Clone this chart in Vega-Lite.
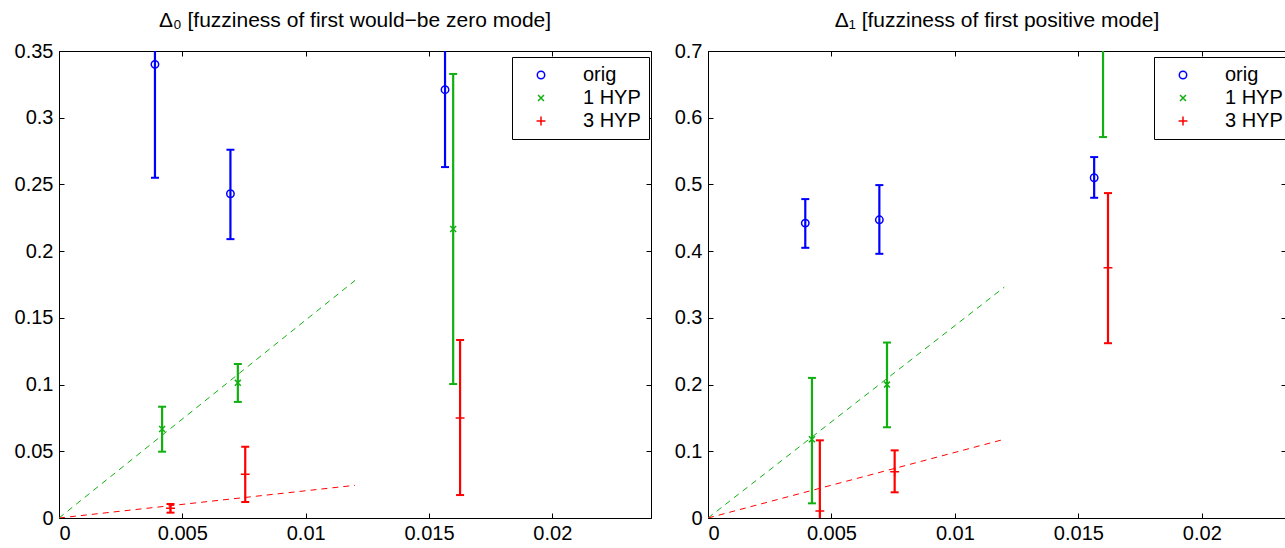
{
  "$schema": "https://vega.github.io/schema/vega-lite/v6.json",
  "background": "white",
  "padding": {"left": 13, "top": 9, "right": 0, "bottom": 0},
  "spacing": 21,
  "config": {
    "font": "Liberation Sans",
    "view": {"stroke": "black", "strokeWidth": 1},
    "title": {"font": "Liberation Sans", "fontSize": 21, "fontWeight": "normal", "color": "black", "anchor": "middle", "baseline": "alphabetic", "offset": 10},
    "axis": {"labelFont": "Liberation Sans", "labelFontSize": 20, "labelColor": "black", "tickColor": "black", "tickSize": -5, "tickWidth": 1, "domain": false, "grid": false, "title": null},
    "axisX": {"labelPadding": 10},
    "axisY": {"labelPadding": 11},
    "legend": {"orient": "none", "legendX": 453, "legendY": 6, "title": null, "padding": 8, "columnPadding": 0, "strokeColor": "black", "fillColor": "white", "labelFont": "Liberation Sans", "labelFontSize": 20, "labelColor": "black", "symbolSize": 55, "symbolStrokeWidth": 1.5, "symbolOffset": 11, "labelOffset": 32, "rowPadding": 3}
  },
  "datasets": {
    "pts": [
      {"panel": "A", "series": "orig", "x": 0.00389, "y": 0.340, "lo": 0.255, "hi": 0.425},
      {"panel": "A", "series": "orig", "x": 0.00695, "y": 0.243, "lo": 0.209, "hi": 0.276},
      {"panel": "A", "series": "orig", "x": 0.01565, "y": 0.321, "lo": 0.263, "hi": 0.379},
      {"panel": "A", "series": "1 HYP", "x": 0.00418, "y": 0.0667, "lo": 0.0497, "hi": 0.0834},
      {"panel": "A", "series": "1 HYP", "x": 0.00725, "y": 0.1013, "lo": 0.087, "hi": 0.1154},
      {"panel": "A", "series": "1 HYP", "x": 0.01598, "y": 0.2166, "lo": 0.1004, "hi": 0.3328},
      {"panel": "A", "series": "3 HYP", "x": 0.00452, "y": 0.0073, "lo": 0.004, "hi": 0.0105},
      {"panel": "A", "series": "3 HYP", "x": 0.00755, "y": 0.0328, "lo": 0.012, "hi": 0.0534},
      {"panel": "A", "series": "3 HYP", "x": 0.01626, "y": 0.075, "lo": 0.0172, "hi": 0.1334},
      {"panel": "B", "series": "orig", "x": 0.00394, "y": 0.442, "lo": 0.405, "hi": 0.478},
      {"panel": "B", "series": "orig", "x": 0.00694, "y": 0.447, "lo": 0.396, "hi": 0.499},
      {"panel": "B", "series": "orig", "x": 0.01564, "y": 0.510, "lo": 0.480, "hi": 0.541},
      {"panel": "B", "series": "1 HYP", "x": 0.00421, "y": 0.118, "lo": 0.022, "hi": 0.210},
      {"panel": "B", "series": "1 HYP", "x": 0.00725, "y": 0.200, "lo": 0.136, "hi": 0.263},
      {"panel": "B", "series": "1 HYP", "x": 0.0160, "y": 0.80, "lo": 0.571, "hi": 1.03},
      {"panel": "B", "series": "3 HYP", "x": 0.00453, "y": 0.0105, "lo": -0.095, "hi": 0.1164},
      {"panel": "B", "series": "3 HYP", "x": 0.00756, "y": 0.0694, "lo": 0.0385, "hi": 0.1014},
      {"panel": "B", "series": "3 HYP", "x": 0.0162, "y": 0.375, "lo": 0.262, "hi": 0.487}
    ],
    "fits": [
      {"panel": "A", "series": "1 HYP", "x": 0, "y": 0},
      {"panel": "A", "series": "1 HYP", "x": 0.012, "y": 0.178},
      {"panel": "A", "series": "3 HYP", "x": 0, "y": 0},
      {"panel": "A", "series": "3 HYP", "x": 0.012, "y": 0.0245},
      {"panel": "B", "series": "1 HYP", "x": 0, "y": 0},
      {"panel": "B", "series": "1 HYP", "x": 0.012, "y": 0.346},
      {"panel": "B", "series": "3 HYP", "x": 0, "y": 0},
      {"panel": "B", "series": "3 HYP", "x": 0.012, "y": 0.118}
    ]
  },
  "hconcat": [
    {
      "width": 592,
      "height": 467,
      "title": {"text": "Δ₀ [fuzziness of first would−be zero mode]"},
      "resolve": {"axis": {"x": "independent", "y": "independent"}},
      "layer": [
        {
          "data": {"name": "pts"},
          "transform": [{"filter": "datum.panel === 'A'"}],
          "mark": {"type": "point", "filled": false, "strokeWidth": 1.5, "size": 55, "opacity": 1, "clip": true},
          "encoding": {
            "x": {"field": "x", "type": "quantitative", "scale": {"domain": [0, 0.024], "nice": false, "zero": false}, "axis": null},
            "y": {"field": "y", "type": "quantitative", "scale": {"domain": [0, 0.35], "nice": false, "zero": false}, "axis": null},
            "color": {"field": "series", "type": "nominal", "scale": {"domain": ["orig", "1 HYP", "3 HYP"], "range": ["#0000ff", "#10b010", "#ff0000"]}},
            "shape": {"field": "series", "type": "nominal", "scale": {"domain": ["orig", "1 HYP", "3 HYP"], "range": ["circle", "M-0.8,-0.8L0.8,0.8M-0.8,0.8L0.8,-0.8", "M-1.2,0L1.2,0M0,-1.2L0,1.2"]}}
          }
        },
        {
          "data": {"name": "fits"},
          "transform": [{"filter": "datum.panel === 'A'"}],
          "mark": {"type": "line", "strokeDash": [6, 5], "strokeWidth": 1, "clip": true},
          "encoding": {
            "x": {"field": "x", "type": "quantitative", "axis": {"orient": "top", "labels": false, "values": [0, 0.005, 0.01, 0.015, 0.02]}},
            "y": {"field": "y", "type": "quantitative", "axis": {"orient": "right", "labels": false, "values": [0, 0.05, 0.1, 0.15, 0.2, 0.25, 0.3, 0.35]}},
            "color": {"field": "series", "type": "nominal"}
          }
        },
        {
          "data": {"name": "pts"},
          "transform": [{"filter": "datum.panel === 'A'"}],
          "mark": {"type": "rule", "strokeWidth": 2.2, "clip": true},
          "encoding": {
            "x": {"field": "x", "type": "quantitative", "axis": {"orient": "bottom", "values": [0, 0.005, 0.01, 0.015, 0.02], "format": ".3~f"}},
            "y": {"field": "lo", "type": "quantitative", "axis": {"orient": "left", "values": [0, 0.05, 0.1, 0.15, 0.2, 0.25, 0.3, 0.35], "format": ".2~f"}},
            "y2": {"field": "hi"},
            "color": {"field": "series", "type": "nominal"}
          }
        },
        {
          "data": {"name": "pts"},
          "transform": [{"filter": "datum.panel === 'A'"}],
          "mark": {"type": "rule", "strokeWidth": 2, "xOffset": -4, "x2Offset": 4, "clip": true},
          "encoding": {
            "x": {"field": "x", "type": "quantitative", "axis": null},
            "x2": {"field": "x"},
            "y": {"field": "lo", "type": "quantitative", "axis": null},
            "color": {"field": "series", "type": "nominal"}
          }
        },
        {
          "data": {"name": "pts"},
          "transform": [{"filter": "datum.panel === 'A'"}],
          "mark": {"type": "rule", "strokeWidth": 2, "xOffset": -4, "x2Offset": 4, "clip": true},
          "encoding": {
            "x": {"field": "x", "type": "quantitative", "axis": null},
            "x2": {"field": "x"},
            "y": {"field": "hi", "type": "quantitative", "axis": null},
            "color": {"field": "series", "type": "nominal"}
          }
        }
      ]
    },
    {
      "width": 578,
      "height": 467,
      "title": {"text": "Δ₁ [fuzziness of first positive mode]"},
      "resolve": {"axis": {"x": "independent", "y": "independent"}},
      "layer": [
        {
          "data": {"name": "pts"},
          "transform": [{"filter": "datum.panel === 'B'"}],
          "mark": {"type": "point", "filled": false, "strokeWidth": 1.5, "size": 55, "opacity": 1, "clip": true},
          "encoding": {
            "x": {"field": "x", "type": "quantitative", "scale": {"domain": [0, 0.02341], "nice": false, "zero": false}, "axis": null},
            "y": {"field": "y", "type": "quantitative", "scale": {"domain": [0, 0.7], "nice": false, "zero": false}, "axis": null},
            "color": {"field": "series", "type": "nominal", "scale": {"domain": ["orig", "1 HYP", "3 HYP"], "range": ["#0000ff", "#10b010", "#ff0000"]}, "legend": {"legendX": 446}},
            "shape": {"field": "series", "type": "nominal", "scale": {"domain": ["orig", "1 HYP", "3 HYP"], "range": ["circle", "M-0.8,-0.8L0.8,0.8M-0.8,0.8L0.8,-0.8", "M-1.2,0L1.2,0M0,-1.2L0,1.2"]}, "legend": {"legendX": 446}}
          }
        },
        {
          "data": {"name": "fits"},
          "transform": [{"filter": "datum.panel === 'B'"}],
          "mark": {"type": "line", "strokeDash": [6, 5], "strokeWidth": 1, "clip": true},
          "encoding": {
            "x": {"field": "x", "type": "quantitative", "axis": {"orient": "top", "labels": false, "values": [0, 0.005, 0.01, 0.015, 0.02]}},
            "y": {"field": "y", "type": "quantitative", "axis": {"orient": "right", "labels": false, "values": [0, 0.1, 0.2, 0.3, 0.4, 0.5, 0.6, 0.7]}},
            "color": {"field": "series", "type": "nominal", "legend": {"legendX": 446}}
          }
        },
        {
          "data": {"name": "pts"},
          "transform": [{"filter": "datum.panel === 'B'"}],
          "mark": {"type": "rule", "strokeWidth": 2.2, "clip": true},
          "encoding": {
            "x": {"field": "x", "type": "quantitative", "axis": {"orient": "bottom", "values": [0, 0.005, 0.01, 0.015, 0.02], "format": ".3~f"}},
            "y": {"field": "lo", "type": "quantitative", "axis": {"orient": "left", "values": [0, 0.1, 0.2, 0.3, 0.4, 0.5, 0.6, 0.7], "format": ".1~f"}},
            "y2": {"field": "hi"},
            "color": {"field": "series", "type": "nominal", "legend": {"legendX": 446}}
          }
        },
        {
          "data": {"name": "pts"},
          "transform": [{"filter": "datum.panel === 'B'"}],
          "mark": {"type": "rule", "strokeWidth": 2, "xOffset": -4, "x2Offset": 4, "clip": true},
          "encoding": {
            "x": {"field": "x", "type": "quantitative", "axis": null},
            "x2": {"field": "x"},
            "y": {"field": "lo", "type": "quantitative", "axis": null},
            "color": {"field": "series", "type": "nominal", "legend": {"legendX": 446}}
          }
        },
        {
          "data": {"name": "pts"},
          "transform": [{"filter": "datum.panel === 'B'"}],
          "mark": {"type": "rule", "strokeWidth": 2, "xOffset": -4, "x2Offset": 4, "clip": true},
          "encoding": {
            "x": {"field": "x", "type": "quantitative", "axis": null},
            "x2": {"field": "x"},
            "y": {"field": "hi", "type": "quantitative", "axis": null},
            "color": {"field": "series", "type": "nominal", "legend": {"legendX": 446}}
          }
        }
      ]
    }
  ],
  "resolve": {"scale": {"color": "independent", "shape": "independent"}, "legend": {"color": "independent", "shape": "independent"}}
}
